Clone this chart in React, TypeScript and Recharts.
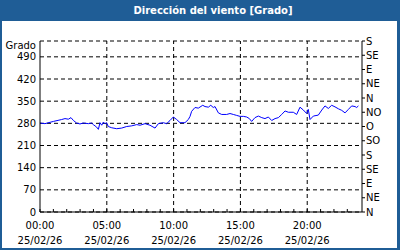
import React from 'react';
import { LineChart, Line, XAxis, YAxis, CartesianGrid, ReferenceLine } from 'recharts';

const hours = [0,0.37,1.0,1.62,1.87,2.12,2.32,2.5,2.74,2.99,3.24,3.62,3.87,3.99,4.24,4.37,4.49,4.62,4.74,4.87,4.99,5.11,5.37,5.74,6.11,6.49,6.86,7.24,7.49,7.86,8.23,8.61,8.86,9.23,9.48,9.73,9.98,10.23,10.48,10.85,11.1,11.23,11.35,11.6,11.85,12.18,12.35,12.6,12.78,12.97,13.1,13.35,13.6,13.97,14.22,14.47,14.72,14.97,15.22,15.47,15.67,15.84,16.09,16.34,16.6,16.84,17.09,17.34,17.59,17.84,18.09,18.34,18.59,18.96,19.21,19.46,19.71,19.96,20.08,20.21,20.46,20.83,21.09,21.33,21.58,21.83,22.08,22.33,22.58,22.83,23.08,23.33,23.58,23.7,23.83];
const direction = [281,279,286,292,295,293,298,289,281,278,281,279,281,276,268,261,282,274,284,278,282,270,266,263,265,270,272,276,274,279,274,265,279,282,279,289,300,292,282,282,292,302,318,330,328,337,333,331,337,330,333,313,308,308,311,308,305,302,302,300,295,286,298,303,298,295,300,289,295,298,308,319,315,315,308,331,322,311,324,292,303,306,322,335,327,337,332,326,321,313,324,335,333,330,335];

const hourTicks = [0,1,2,3,4,5,6,7,8,9,10,11,12,13,14,15,16,17,18,19,20,21,22,23];
const majorHours = [0, 5, 10, 15, 20];
const timeLabels = ['00:00', '05:00', '10:00', '15:00', '20:00'];
const dateLabel = '25/02/26';
const leftTicks = [0, 70, 140, 210, 280, 350, 420, 490];
const rightTicks = [0, 45, 90, 135, 180, 225, 270, 315, 360, 405, 450, 495, 540];
const rightLabels = ['N', 'NE', 'E', 'SE', 'S', 'SO', 'O', 'NO', 'N', 'NE', 'E', 'SE', 'S'];
const title = 'Dirección del viento [Grado]';
const unitLabel = 'Grado';

const data = hours.map((h, i) => ({ h, v: direction[i] }));

const FONT = 'DejaVu Sans';
const BLUE = '#1f5d96';

const XTick = (props: any) => {
  const { x, y, payload } = props;
  const idx = majorHours.indexOf(payload.value);
  return (
    <g>
      <line x1={x} x2={x} y1={y} y2={y - 3} stroke="#000" />
      {idx >= 0 && (
        <text x={x} y={y + 17} textAnchor="middle" fontFamily={FONT} fontSize={10} fill="#000">
          {timeLabels[idx]}
        </text>
      )}
      {idx >= 0 && (
        <text x={x} y={y + 32} textAnchor="middle" fontFamily={FONT} fontSize={10} fill="#000">
          {dateLabel}
        </text>
      )}
    </g>
  );
};

const RTick = (props: any) => {
  const { x, y, payload } = props;
  const idx = rightTicks.indexOf(payload.value);
  return (
    <text x={x} y={y} dy="0.355em" textAnchor="start" fontFamily={FONT} fontSize={10} fill="#000">
      {rightLabels[idx]}
    </text>
  );
};

export default function App() {
  return (
    <div style={{ position: 'fixed', left: 0, top: 0, width: 400, height: 250, background: BLUE, fontFamily: FONT }}>
      <div style={{ position: 'absolute', left: 2, top: 21, width: 395, height: 227, background: '#ffffff' }} />
      <div style={{ position: 'absolute', left: 0, top: 0, width: 426, height: 21, lineHeight: '21px', textAlign: 'center', color: '#ffffff', fontWeight: 'bold', fontSize: 10, fontFamily: FONT }}>
        {title}
      </div>
      <div style={{ position: 'absolute', right: 364, top: 40, lineHeight: '12px', fontSize: 10, color: '#000', fontFamily: FONT }}>
        {unitLabel}
      </div>
      <div style={{ position: 'absolute', left: 0, top: 0 }}>
        <LineChart width={400} height={250} data={data} margin={{ top: 41, right: 0, bottom: 0, left: 0 }}>
          <CartesianGrid yAxisId="left" vertical={false} stroke="#000" strokeDasharray="4 3" />
          <XAxis
            dataKey="h"
            type="number"
            domain={[0, 24.1]}
            ticks={hourTicks}
            interval={0}
            height={38}
            tickSize={0}
            tickMargin={0}
            tickLine={false}
            tick={<XTick />}
            axisLine={{ stroke: '#000' }}
            allowDataOverflow
          />
          <XAxis xAxisId="top" orientation="top" dataKey="h" type="number" domain={[0, 24.1]} height={0} tick={false} tickLine={false} axisLine={{ stroke: '#000' }} />
          <YAxis
            yAxisId="left"
            type="number"
            domain={[0, 540]}
            ticks={leftTicks}
            width={40}
            tickSize={0}
            tickMargin={4}
            tickLine={false}
            axisLine={{ stroke: '#000' }}
            tick={{ fill: '#000', fontSize: 10, fontFamily: FONT }}
            interval={0}
          />
          <YAxis
            yAxisId="right"
            orientation="right"
            type="number"
            domain={[0, 540]}
            ticks={rightTicks}
            width={38}
            tickSize={3}
            tickMargin={1}
            tickLine={{ stroke: '#000' }}
            axisLine={{ stroke: '#000' }}
            tick={<RTick />}
            interval={0}
            allowDataOverflow
          />
          {majorHours.slice(1).map((h) => (
            <ReferenceLine key={h} x={h} yAxisId="left" stroke="#000" strokeDasharray="4 3" />
          ))}
          <Line yAxisId="right" type="linear" dataKey="v" stroke="none" strokeWidth={0} dot={false} isAnimationActive={false} legendType="none" />
          <Line yAxisId="left" type="linear" dataKey="v" stroke="#0000ff" strokeWidth={1} dot={false} isAnimationActive={false} />
        </LineChart>
      </div>
    </div>
  );
}
